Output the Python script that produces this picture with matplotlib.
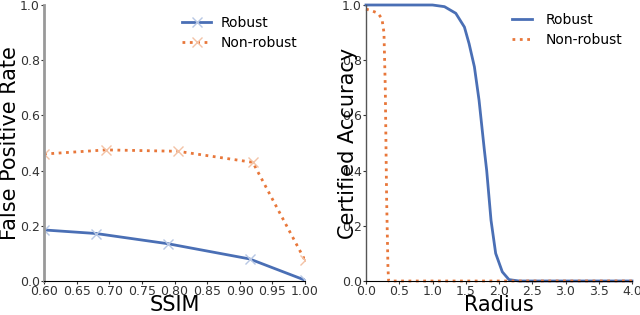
import matplotlib
matplotlib.use("Agg")
import matplotlib.pyplot as plt

BLUE = '#4a6fb5'
ORANGE = '#e8773a'

# left panel: false positive rate vs SSIM
ssim_robust = [0.60, 0.68, 0.79, 0.915, 1.00]
fpr_robust = [0.185, 0.172, 0.135, 0.08, 0.003]
ssim_nonrobust = [0.60, 0.695, 0.805, 0.92, 1.00]
fpr_nonrobust = [0.46, 0.475, 0.47, 0.43, 0.075]

# right panel: certified accuracy vs radius
radius_robust = [0.0, 1.0, 1.18, 1.35, 1.48, 1.55, 1.63, 1.70, 1.78, 1.815,
                 1.88, 1.95, 2.05, 2.15, 2.3, 4.0]
acc_robust = [1.0, 1.0, 0.994, 0.97, 0.92, 0.86, 0.776, 0.655, 0.474, 0.40,
              0.22, 0.10, 0.033, 0.005, 0.0, 0.0]
radius_nonrobust = [0.0, 0.08, 0.18, 0.24, 0.27, 0.29, 0.30, 0.31, 0.33, 0.34, 4.0]
acc_nonrobust = [0.985, 0.98, 0.97, 0.95, 0.90, 0.70, 0.50, 0.30, 0.05, 0.0, 0.0]

W, H = 640, 315
fig = plt.figure(figsize=(6.4, 3.15), dpi=100)
ax1 = fig.add_axes([44 / W, 1 - 281 / H, 261 / W, 276 / H])
ax2 = fig.add_axes([366 / W, 1 - 281 / H, 266 / W, 276 / H])

ax1.plot(ssim_robust, fpr_robust, color=BLUE, lw=2, label='Robust',
         marker='x', ms=7.5, mec='#b7c7e4', mew=1)
ax1.plot(ssim_nonrobust, fpr_nonrobust, color=ORANGE, lw=2, ls=':', label='Non-robust',
         marker='x', ms=7.5, mec='#f3c3a6', mew=1)
ax1.set_xlim(0.6, 1.0)
ax1.set_ylim(0, 1.0)
ax1.set_xticks([0.60, 0.65, 0.70, 0.75, 0.80, 0.85, 0.90, 0.95, 1.00])
ax1.set_xlabel('SSIM', fontsize=15)
ax1.set_ylabel('False Positive Rate', fontsize=15)
ax1.yaxis.set_label_coords((20 - 44) / 261, 0.5)
ax1.xaxis.set_label_coords(0.5, (281 - 295) / 276)
ax1.legend(loc='upper left', frameon=False, fontsize=10, labelspacing=0.4,
           handlelength=2.1, handletextpad=0.65,
           bbox_to_anchor=(169.5 / W, 1 - 3.5 / H), bbox_transform=fig.transFigure)

ax2.plot(radius_robust, acc_robust, color=BLUE, lw=2, label='Robust', clip_on=False)
ax2.plot(radius_nonrobust, acc_nonrobust, color=ORANGE, lw=2, ls=':', label='Non-robust',
         clip_on=False)
ax2.set_xlim(0, 4.0)
ax2.set_ylim(0, 1.0)
ax2.set_xticks([0.0, 0.5, 1.0, 1.5, 2.0, 2.5, 3.0, 3.5, 4.0])
ax2.set_xlabel('Radius', fontsize=15)
ax2.set_ylabel('Certified Accuracy', fontsize=15)
ax2.yaxis.set_label_coords((358 - 366) / 266, 0.5)
ax2.xaxis.set_label_coords(0.5, (281 - 295) / 276)
ax2.legend(loc='upper left', frameon=False, fontsize=10, labelspacing=0.4,
           handlelength=1.45, handletextpad=1.0,
           bbox_to_anchor=(499.5 / W, 1 - 0.5 / H), bbox_transform=fig.transFigure)

for ax, lcol, lw in [(ax1, '#999999', 2), (ax2, '#555555', 1)]:
    ax.spines['top'].set_visible(False)
    ax.spines['right'].set_visible(False)
    ax.spines['left'].set_color(lcol)
    ax.spines['left'].set_linewidth(lw)
    ax.spines['bottom'].set_color('black')
    ax.tick_params(labelsize=9, colors='#333333', length=2, pad=1)
    ax.set_yticks([0.0, 0.2, 0.4, 0.6, 0.8, 1.0])

fig.savefig('out.png', dpi=100)
